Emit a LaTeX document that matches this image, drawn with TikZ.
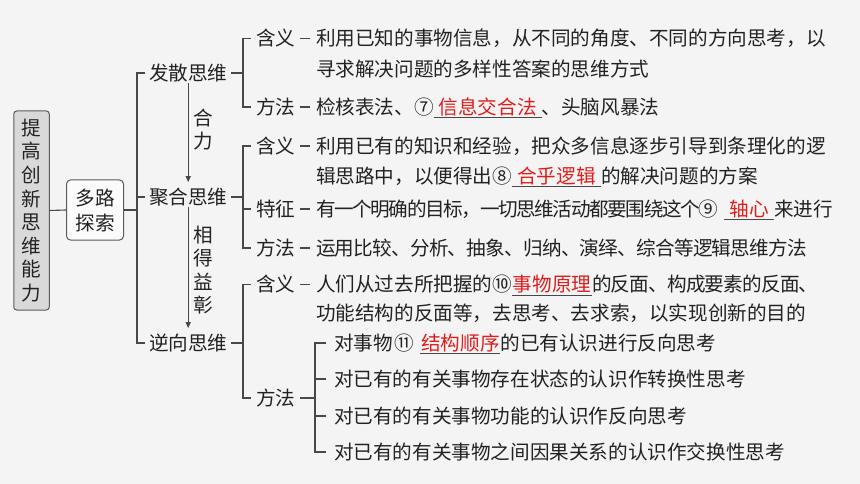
\documentclass[tikz,border=0pt]{standalone}
\usepackage{fontspec}
\setmainfont{Noto Sans CJK SC}
\usetikzlibrary{arrows.meta}
\definecolor{bgc}{RGB}{244,244,244}
\definecolor{txtc}{RGB}{34,34,34}
\definecolor{linec}{RGB}{72,72,72}
\definecolor{redc}{RGB}{220,30,30}
\definecolor{boxfill}{RGB}{217,217,217}
\definecolor{boxdraw}{RGB}{90,90,90}
\newcommand\fs{\fontsize{19.6pt}{23.6pt}\selectfont}
\newcommand\blank[2]{\makebox[0pt][l]{\color{linec}\rule[-3.8pt]{#1}{0.8pt}}\makebox[#1][c]{\color{redc}#2}}
\tikzset{
  basetext/.style={inner sep=0pt, outer ysep=0pt, text=txtc, font=\fs, text height=17.2pt, text depth=2.4pt, anchor=west},
  lvltwo/.style={basetext, outer xsep=4pt},
  lbl/.style={basetext, outer xsep=5pt},
  txt/.style={basetext, outer xsep=6pt},
  itm/.style={basetext, outer xsep=8pt},
  ln/.style={draw=linec, line width=1.1pt},
  arr/.style={ln, -{Triangle[length=6pt,width=5pt]}, shorten >=5pt},
  vlab/.style={inner sep=0pt, align=center, text=txtc, font=\fontsize{19.6pt}{23.3pt}\selectfont},
}
\begin{document}
\begin{tikzpicture}[x=1pt,y=-1pt]
\fill[bgc] (0,0) rectangle (860,484);
\useasboundingbox (0,0) rectangle (860,484);

% root and second level
\node[draw=boxdraw, fill=boxfill, line width=1pt, rounded corners=3pt, minimum width=35.5pt, minimum height=199pt, inner sep=0pt, align=center, text=txtc, font=\fontsize{19.6pt}{23.6pt}\selectfont] (root) at (31.5,210.5) {提\\高\\创\\新\\思\\维\\能\\力};
\node[draw=boxdraw, fill=white!60!bgc, line width=1pt, rounded corners=4pt, minimum width=57pt, minimum height=60pt, inner sep=0pt, align=center, text=txtc, font=\fontsize{19.6pt}{25pt}\selectfont] (dl) at (95,210) {多路\\探索};

\node[lvltwo] (fs) at (145,73) {发散思维};
\node[lvltwo] (jh) at (145,197) {聚合思维};
\node[lvltwo] (nx) at (145,343) {逆向思维};

% labels
\node[lbl] (fs1) at (251,38.5) {含义};
\node[lbl] (fs2) at (251,107) {方法};
\node[lbl] (jh1) at (251,146) {含义};
\node[lbl] (jh2) at (251,209) {特征};
\node[lbl] (jh3) at (251,248) {方法};
\node[lbl] (nx1) at (251,284.5) {含义};
\node[lbl] (nx2) at (251,398) {方法};

% texts
\node[txt] (fs1t) at (310,38.5) {利用已知的事物信息，从不同的角度、不同的方向思考，以};
\node[txt] (fs1u) at (310,69) {寻求解决问题的多样性答案的思维方式};
\node[txt] (fs2t) at (310,107) {检核表法、⑦\blank{108pt}{信息交合法}、头脑风暴法};
\node[txt] (jh1t) at (310,146) {利用已有的知识和经验，把众多信息逐步引导到条理化的逻};
\node[txt] (jh1u) at (310,176) {辑思路中，以便得出⑧\blank{89pt}{合乎逻辑}的解决问题的方案};
\node[txt] (jh2t) at (310,209) {{\addfontfeature{LetterSpace=-7}有一个明确的目标，一切思维活动都要围绕这个⑨}\hspace{6pt}\blank{50pt}{轴心}来进行};
\node[txt] (jh3t) at (310,248) {{\addfontfeature{LetterSpace=-3.8}运用比较、分析、抽象、归纳、演绎、综合等逻辑思维方法}};
\node[txt] (nx1t) at (310,284.5) {人们从过去所把握的⑩\blank{80pt}{事物原理}{\addfontfeature{LetterSpace=-4}的反面、构成要素的反面、}};
\node[txt] (nx1u) at (310,313) {功能结构的反面等，去思考、去求索，以实现创新的目的};

\node[itm] (it1) at (326,343) {对事物\hspace{2pt}⑪\hspace{6pt}\blank{80pt}{结构顺序}的已有认识进行反向思考};
\node[itm] (it2) at (326,379) {对已有的有关事物存在状态的认识作转换性思考};
\node[itm] (it3) at (326,416) {对已有的有关事物功能的认识作反向思考};
\node[itm] (it4) at (326,452) {对已有的有关事物之间因果关系的认识作交换性思考};

% bracket joints
\coordinate (b1) at (137,210);
\coordinate (b2) at (243,73);
\coordinate (b3) at (243,197);
\coordinate (b4) at (243,343);
\coordinate (b5) at (315,398);

\draw[ln] (root.east) -- (dl.west);
\draw[ln] (dl.east) -- (b1);
\draw[ln] (fs.west) -| (b1) |- (nx.west);
\draw[ln] (jh.west) -- (jh.west -| b1);

\draw[ln] (fs.east) -- (b2);
\draw[ln] (fs1.west) -| (b2) |- (fs2.west);
\draw[ln] (jh.east) -- (b3);
\draw[ln] (jh1.west) -| (b3) |- (jh3.west);
\draw[ln] (jh2.west) -- (jh2.west -| b3);
\draw[ln] (nx.east) -- (b4);
\draw[ln] (nx1.west) -| (b4) |- (nx2.west);
\draw[ln] (nx2.east) -- (b5);
\draw[ln] (it1.west) -| (b5) |- (it4.west);
\draw[ln] (it2.west) -- (it2.west -| b5);
\draw[ln] (it3.west) -- (it3.west -| b5);

% dashes
\draw[ln] (fs1.east) -- (fs1t.west);
\draw[ln] (fs2.east) -- (fs2t.west);
\draw[ln] (jh1.east) -- (jh1t.west);
\draw[ln] (jh2.east) -- (jh2t.west);
\draw[ln] (jh3.east) -- (jh3t.west);
\draw[ln] (nx1.east) -- (nx1t.west);

% arrows
\draw[arr] (fs) -- node[vlab, right=5pt, pos=0.45] (hl) {合\\力} (jh);
\draw[arr] (jh) -- node[vlab, right=5pt, pos=0.5] (xd) {相\\得\\益\\彰} (nx);
\end{tikzpicture}
\end{document}
